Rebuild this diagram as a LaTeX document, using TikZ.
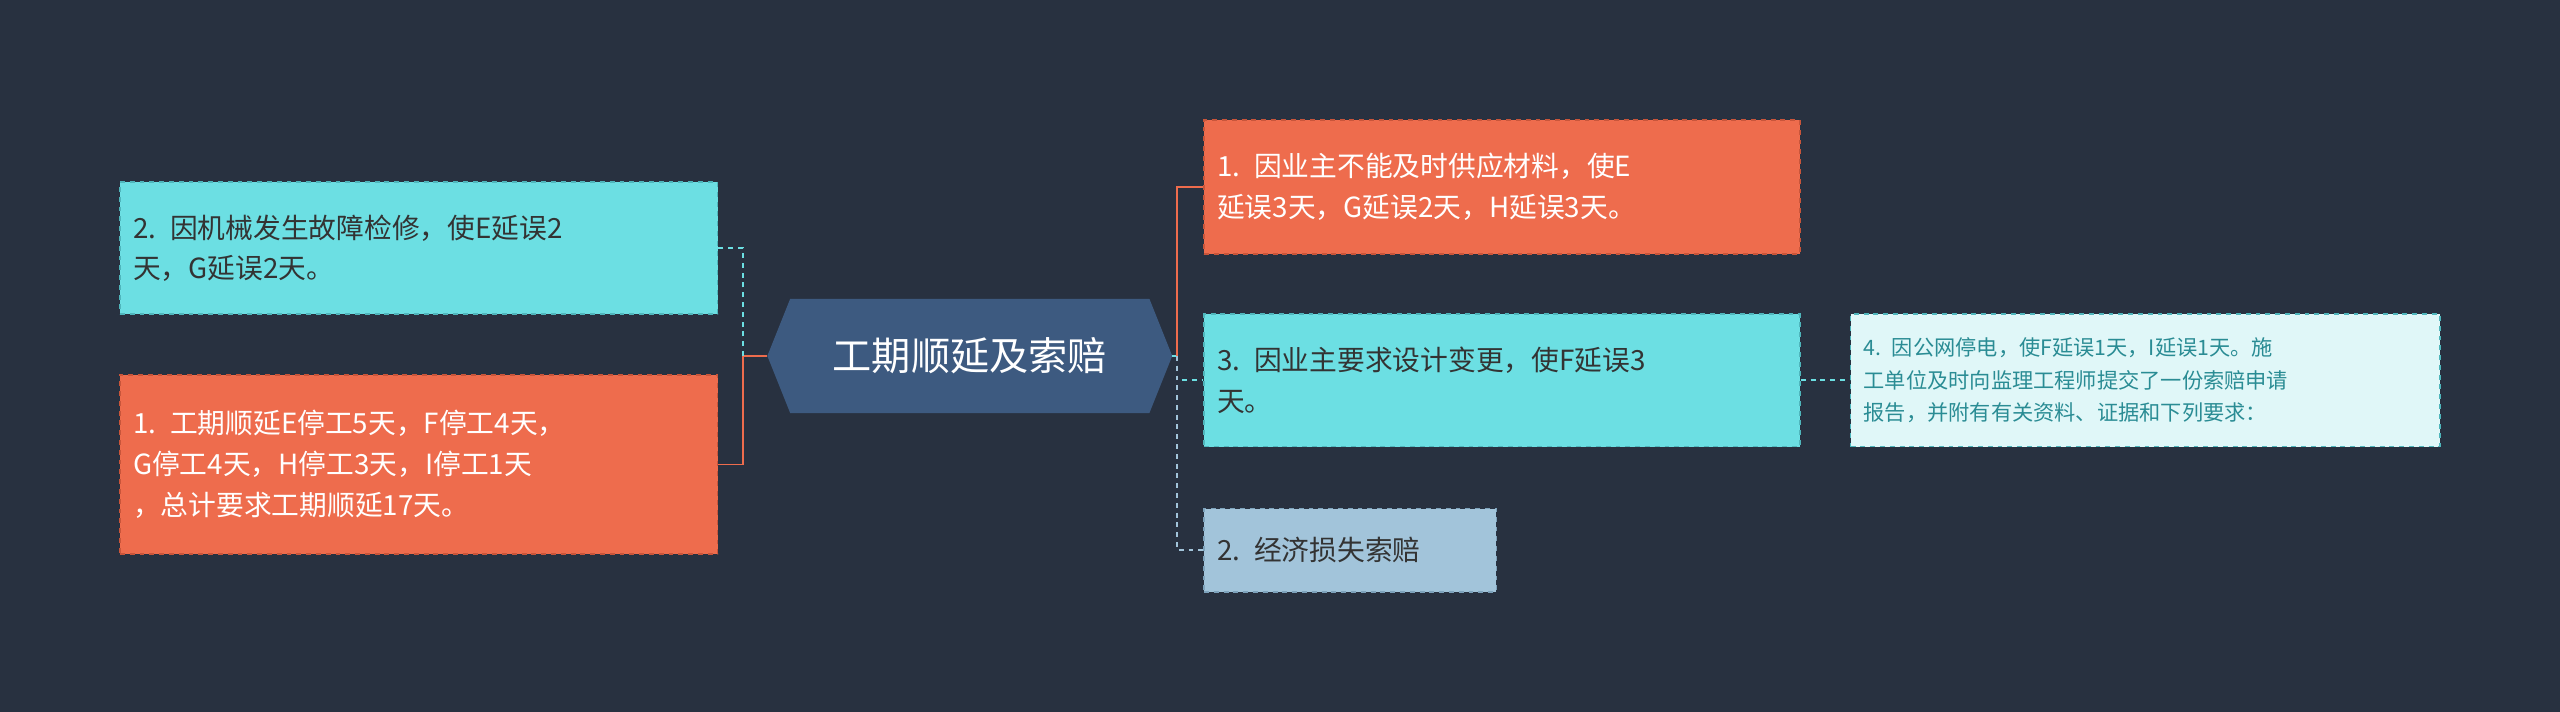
\documentclass[tikz,border=0pt]{standalone}
\usepackage{fontspec}
\newfontfamily\cjk{Noto Sans CJK SC}
\usetikzlibrary{shapes.geometric}
\definecolor{bg}{HTML}{283140}
\definecolor{cy}{HTML}{6CDFE3}
\definecolor{cyb}{HTML}{4FB6BC}
\definecolor{orr}{HTML}{EE6C4D}
\definecolor{orb}{HTML}{C9553A}
\definecolor{lb}{HTML}{A2C4DA}
\definecolor{lbb}{HTML}{7EA3BC}
\definecolor{pale}{HTML}{E0F7F8}
\definecolor{teal}{HTML}{2A8C94}
\definecolor{hub}{HTML}{3D5A80}
\begin{document}
\begin{tikzpicture}[x=1pt,y=-1pt,
 box/.style={draw, dashed, line width=1pt, inner xsep=8pt, anchor=north west, align=left, font=\cjk\fontsize{17}{25}\selectfont},
 cbox/.style={box, fill=cy, draw=cyb, text=black!80},
 obox/.style={box, fill=orr, draw=orb, text=white},
 lbox/.style={box, fill=lb, draw=lbb, text=black!80},
 pbox/.style={box, fill=pale, draw=cyb, text=teal, font=\cjk\fontsize{13}{20}\selectfont},
 cl/.style={cy, dashed, line width=1.2pt},
 ol/.style={orr, line width=1.2pt},
 ll/.style={lb, dashed, line width=1.2pt}]
\fill[bg] (0,0) rectangle (1568,436);
\useasboundingbox (0,0) rectangle (1568,436);
% hub
\fill[hub] (484,183) -- (704,183) -- (718,218) -- (704,253) -- (484,253) -- (470,218) -- cycle;
\node[text=white, font=\cjk\fontsize{24}{28}\selectfont] (hub) at (594,218) {工期顺延及索赔};
\coordinate (hl) at (470,218);
\coordinate (hr) at (718,218);
% left
\node[cbox, minimum width=366pt, minimum height=81pt, text width=350pt] (l1) at (73,111) {2. 因机械发生故障检修，使E延误2\\天，G延误2天。};
\node[obox, minimum width=366pt, minimum height=110pt, text width=350pt] (l2) at (73,229) {1. 工期顺延E停工5天，F停工4天，\\G停工4天，H停工3天，I停工1天\\，总计要求工期顺延17天。};
% right
\node[obox, minimum width=365pt, minimum height=82pt, text width=349pt] (r1) at (737,73) {1. 因业主不能及时供应材料，使E\\延误3天，G延误2天，H延误3天。};
\node[cbox, minimum width=365pt, minimum height=81pt, text width=349pt] (r2) at (737,192) {3. 因业主要求设计变更，使F延误3\\天。};
\node[lbox, minimum width=179pt, minimum height=51pt, text width=163pt] (r3) at (737,311) {2. 经济损失索赔};
\node[pbox, minimum width=361pt, minimum height=81pt, text width=345pt] (f1) at (1133,192) {4. 因公网停电，使F延误1天，I延误1天。施\\工单位及时向监理工程师提交了一份索赔申请\\报告，并附有有关资料、证据和下列要求：};
% connectors left
\draw[ol] (hl) -- (455,218);
\draw[cl] (455,218) |- (l1.east);
\draw[ol] (455,218) |- (l2.east);
% connectors right
\draw[cl] (hr) -- (721,218);
\draw[ol] (721,218) |- (r1.west);
\draw[cl] (721,218) |- (r2.west);
\draw[ll] (721,218) |- (r3.west);
\draw[cl] (r2.east) -- (f1.west);
\end{tikzpicture}
\end{document}
